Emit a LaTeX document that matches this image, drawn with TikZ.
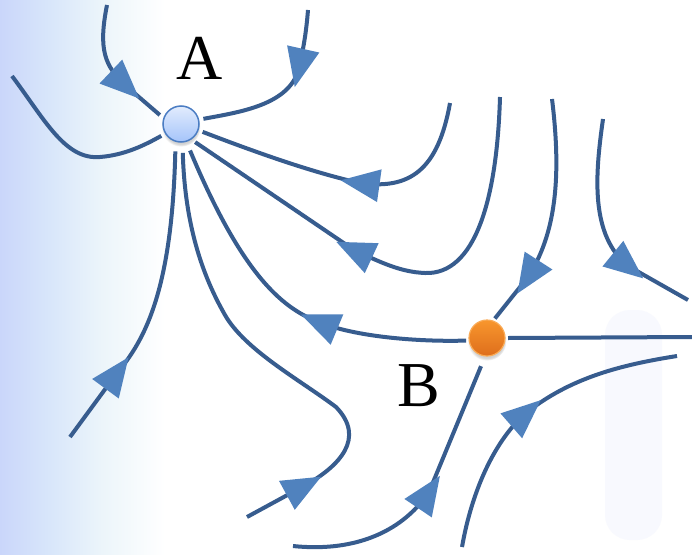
\documentclass[tikz,border=0pt]{standalone}
\usepackage{fontspec}
\setmainfont{Liberation Serif}
\usetikzlibrary{shadows}
\definecolor{flow}{RGB}{55,92,142}
\definecolor{arrowblue}{RGB}{80,130,190}
\definecolor{bgA}{RGB}{202,214,250}
\definecolor{bgB}{RGB}{216,230,250}
\definecolor{bgC}{RGB}{236,245,250}
\definecolor{blob}{RGB}{248,249,254}
\definecolor{Atop}{RGB}{226,236,253}
\definecolor{Abot}{RGB}{165,196,250}
\definecolor{Aborder}{RGB}{75,125,195}
\definecolor{Btop}{RGB}{248,150,45}
\definecolor{Bbot}{RGB}{222,110,28}
\definecolor{Bborder}{RGB}{250,170,85}
\pgfdeclarehorizontalshading{leftbg}{100bp}{color(0bp)=(bgA); color(25bp)=(bgA); color(40bp)=(bgB); color(56bp)=(bgC); color(75bp)=(white); color(100bp)=(white)}
\begin{document}
\begin{tikzpicture}[x=1pt,y=-1pt,
  flowline/.style={draw=flow, line width=4pt},
  tri/.pic={\fill[arrowblue] (19.5pt,0pt) -- (-19.5pt,16.5pt) -- (-19.5pt,-16.5pt) -- cycle;},
  arr/.style={pos=1, sloped, allow upside down},
  pt/.style={circle, minimum size=36pt, inner sep=0pt},
  lbl/.style={font=\fontsize{64}{64}\selectfont, inner sep=0pt}]
\useasboundingbox (0,0) rectangle (692,554);
\fill[white] (0,0) rectangle (692,554);
\shade[shading=leftbg] (0,0) rectangle (165,554);
\fill[blob, rounded corners=25pt] (605,310) rectangle (662,540);
% nodes
\node[pt, outer sep=5pt, draw=Aborder, line width=1.5pt, top color=Atop, bottom color=Abot,
  circular drop shadow={shadow scale=1.08, shadow xshift=0pt, shadow yshift=-3pt, opacity=0.35}] (A) at (181,124) {};
\node[pt, outer sep=3pt, draw=Bborder, line width=1.2pt, top color=Btop, bottom color=Bbot,
  circular drop shadow={shadow scale=1.08, shadow xshift=0pt, shadow yshift=-3pt, opacity=0.35}] (B) at (487,338) {};
\node[lbl] (LA) at (200,58.5) {A};
\node[lbl] (LB) at (419,386) {B};
% free ends
\coordinate (s1) at (107,5);
\coordinate (s2) at (308,10);
\coordinate (s3) at (12,76);
\coordinate (s4) at (70,437);
\coordinate (s5) at (247,517);
\coordinate (s7) at (500,97);
\coordinate (s8) at (450,103);
\coordinate (s9) at (552,99);
\coordinate (s10) at (603,119);
\coordinate (e10) at (688,300);
\coordinate (e11) at (692,337);
\coordinate (s12) at (293,546);
\coordinate (s13) at (462,547);
\coordinate (e13) at (677,356);
% connectors
\draw[flowline] (s1) .. controls (98,50) and (105,66) .. (125,85) pic[arr]{tri} -- (A.157);
\draw[flowline] (s2) .. controls (306,35) and (303,50) .. (299,68) pic[arr]{tri} .. controls (290,105) and (240,112) .. (A.13);
\draw[flowline] (s3) .. controls (45,120) and (65,160) .. (100,157) .. controls (125,155) and (145,145) .. (A.211);
\draw[flowline, shorten >=5pt] (s4) -- (117,373) pic[arr]{tri} .. controls (145,340) and (172,290) .. (A.-104);
\draw[flowline, shorten >=6pt] (s5) -- (304,486) pic[arr]{tri} .. controls (340,466) and (366,438) .. (336,407) .. controls (300,380) and (245,350) .. (225,315) .. controls (205,280) and (185,230) .. (A.-86);
\draw[flowline, shorten >=5pt] (B.187) .. controls (420,342) and (355,337) .. (319,322) pic[arr]{tri} .. controls (280,308) and (240,270) .. (A.-72);
\draw[flowline] (s7) .. controls (497,200) and (475,275) .. (425,273) .. controls (400,272) and (380,262) .. (354,250) pic[arr]{tri} -- (A.-52);
\draw[flowline] (s8) .. controls (438,170) and (410,190) .. (360,183) pic[arr]{tri} .. controls (310,172) and (250,150) .. (A.-20);
\draw[flowline] (s9) .. controls (562,180) and (555,235) .. (528,277) pic[arr]{tri} -- (B.68);
\draw[flowline] (s10) .. controls (595,175) and (590,235) .. (628,266) pic[arr]{tri} -- (e10);
\draw[flowline] (B.0) -- (e11);
\draw[flowline, shorten >=8pt] (s12) .. controls (350,552) and (400,535) .. (429,492) pic[arr]{tri} -- (B.-98);
\draw[flowline] (s13) .. controls (472,490) and (495,440) .. (526,413) pic[arr]{tri} .. controls (570,378) and (620,365) .. (e13);
\end{tikzpicture}
\end{document}
